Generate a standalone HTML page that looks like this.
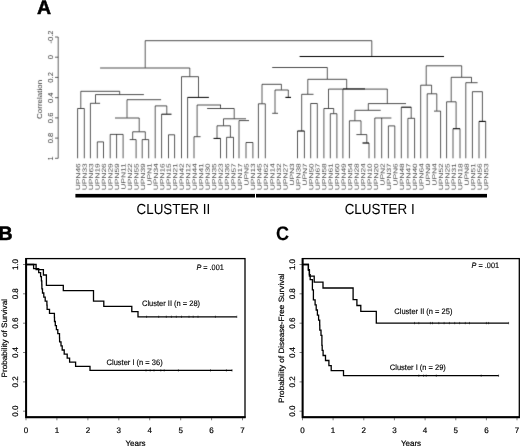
<!DOCTYPE html>
<html lang="en"><head><meta charset="utf-8"><title>Figure</title>
<style>
html,body{margin:0;padding:0;background:#fff;}
body{width:520px;height:446px;overflow:hidden;}
svg{display:block;}
text{font-family:"Liberation Sans",Arial,Helvetica,sans-serif;text-rendering:geometricPrecision;}
.pl{font-weight:bold;font-size:19.5px;fill:#000;stroke:#000;stroke-width:0.5px;}
.dl{font-size:6.1px;fill:#4c4c4c;}
.ax{font-size:7.2px;fill:#333;}
.tk{font-size:8px;fill:#000;stroke:#000;stroke-width:0.2px;}
.cl{font-size:14.6px;fill:#000;stroke:#000;stroke-width:0.06px;}
.an{font-size:7.9px;fill:#000;stroke:#000;stroke-width:0.15px;}
</style></head><body>
<svg width="520" height="446" viewBox="0 0 520 446">
<defs><filter id="soft" x="0" y="20" width="520" height="172" filterUnits="userSpaceOnUse" color-interpolation-filters="sRGB"><feConvolveMatrix order="3" kernelMatrix="0.0081 0.0738 0.0081 0.0738 0.6724 0.0738 0.0081 0.0738 0.0081" divisor="1" edgeMode="duplicate" preserveAlpha="true"/></filter></defs>
<rect width="520" height="446" fill="#fff"/>
<text class="pl" x="36.9" y="13.9">A</text>
<text class="pl" x="-1.4" y="239.6">B</text>
<text class="pl" style="stroke-width:0.15px" transform="translate(276 239.5) scale(0.92 1)">C</text>
<g filter="url(#soft)"><rect x="0" y="20" width="520" height="172" fill="#fff"/>
<g stroke="#000" stroke-width="0.62" fill="none" stroke-linecap="butt">
<path stroke-width="0.7" d="M77.6 108.5H84.3M80.8 91.3H119.7M95.5 94.6H143.9M90.4 103.3H100.1M97.3 141.9H103.5M127.0 99.7H161.1M115.0 118.0H139.2M132.7 131.8H145.3M129.7 139.6H136.1M142.2 139.6H148.7M110.2 134.4H123.1M155.2 105.9H166.8M168.5 134.8H174.6M145.2 40.7H371.8M100.1 68.0H189.8M181.5 76.7H198.5M197.1 105.0H221.0M194.0 136.7H200.6M207.1 108.5H234.2M223.5 118.8H246.0M217.0 125.8H230.4M226.6 137.3H233.5M239.0 120.6H249.0M246.0 142.5H252.9M272.2 67.5H327.3M307.8 79.3H346.7M262.0 84.3H281.4M258.4 103.8H265.3M275.0 90.0H288.3M272.2 113.3H278.0M301.7 94.3H313.5M310.7 103.5H317.3M328.5 89.1H387.4M323.9 108.5H333.7M330.3 113.7H336.9M368.3 103.6H406.0M354.9 110.3H380.7M349.4 120.8H361.0M356.4 134.6H366.8M374.8 118.0H391.4M388.4 125.9H394.8M407.9 118.3H414.6M426.2 65.8H461.7M420.7 85.2H431.6M427.2 93.8H436.8M434.0 111.1H440.6M451.2 77.3H471.5M446.6 101.8H456.1M465.8 82.7H477.6M472.4 91.7H482.4"/>
<path stroke-width="1.0" d="M161.6 114.2H171.5"/>
<path stroke-width="1.0" d="M187.6 97.4H208.9"/>
<path stroke-width="1.0" d="M213.5 138.4H220.5"/>
<path stroke-width="1.0" d="M299.6 56.5H444.0"/>
<path stroke-width="1.1" d="M285.4 97.4H291.0"/>
<path stroke-width="1.1" d="M297.5 131.0H304.4"/>
<path stroke-width="0.9" d="M343.0 88.9H365.0"/>
<path stroke-width="1.2" d="M362.5 143.0H369.0"/>
<path stroke-width="1.1" d="M401.3 107.2H411.2"/>
<path stroke-width="1.1" d="M453.0 128.7H460.0"/>
<path stroke-width="1.1" d="M479.0 121.4H485.7"/>
<path stroke-width="0.65" d="M77.6 108.5V158.3M84.3 108.5V158.3M80.8 91.3V108.2M119.7 91.3V94.3M95.5 94.6V103.0M90.4 103.3V158.3M97.3 141.9V158.3M103.5 141.9V158.3M127.0 99.7V117.7M139.2 118.0V131.5M132.7 131.8V139.3M136.1 139.6V158.3M145.3 131.8V139.3M142.2 139.6V158.3M148.7 139.6V158.3M110.2 134.4V158.3M116.6 134.4V158.3M123.1 134.4V158.3M155.2 105.9V158.3M166.8 105.9V113.9M161.6 114.2V158.3M168.5 134.8V158.3M174.6 134.8V158.3M145.2 40.7V67.7M189.8 68.0V76.4M181.5 76.7V158.3M198.5 76.7V97.1M187.6 97.4V158.3M197.1 105.0V136.4M194.0 136.7V158.3M220.5 105.0V108.2M234.2 108.5V118.5M223.5 118.8V125.5M217.0 125.8V138.1M220.5 138.4V158.3M230.4 125.8V137.0M226.6 137.3V158.3M233.5 137.3V158.3M239.0 120.6V158.3M246.0 142.5V158.3M252.9 142.5V158.3M371.8 40.7V56.2M327.3 67.5V79.0M262.0 84.3V103.5M258.4 103.8V158.3M265.3 103.8V158.3M281.4 84.3V89.7M275.0 90.0V113.0M288.3 90.0V97.1M307.8 79.3V94.0M301.7 94.3V130.7M297.5 131.0V158.3M304.4 131.0V158.3M310.7 103.5V158.3M317.3 103.5V158.3M346.7 79.3V88.8M328.5 89.1V108.2M323.9 108.5V158.3M333.7 108.5V113.4M330.3 113.7V158.3M336.9 113.7V158.3M342.9 89.1V158.3M387.3 89.1V103.3M368.3 103.6V110.0M354.9 110.3V120.5M349.4 120.8V158.3M361.0 120.8V134.3M366.8 134.6V142.7M369.0 143.0V158.3M374.8 118.0V158.3M381.7 118.0V158.3M388.4 125.9V158.3M394.8 125.9V158.3M401.3 107.2V158.3M411.2 107.2V118.0M407.9 118.3V158.3M414.6 118.3V158.3M426.2 65.8V84.9M420.7 85.2V158.3M431.6 85.2V93.5M427.2 93.8V158.3M436.8 93.8V110.8M440.6 111.1V158.3M461.7 65.8V77.0M451.2 77.3V101.5M446.6 101.8V158.3M456.1 101.8V128.4M453.0 128.7V158.3M460.0 128.7V158.3M471.5 77.3V82.4M465.8 82.7V158.3M472.4 91.7V158.3M482.4 91.7V121.1M479.0 121.4V158.3M485.7 121.4V158.3"/>
<path d="M58.2 37.0V158.3M58.2 37.0H55.0M58.2 57.2H55.0M58.2 77.4H55.0M58.2 97.7H55.0M58.2 117.9H55.0M58.2 138.1H55.0M58.2 158.3H55.0"/>
</g>
<text class="ax" text-anchor="middle" transform="translate(52.9 37.0) rotate(-90) scale(1.05 1)">-0.2</text>
<text class="ax" text-anchor="middle" transform="translate(52.9 57.2) rotate(-90) scale(1.05 1)">0</text>
<text class="ax" text-anchor="middle" transform="translate(52.9 77.4) rotate(-90) scale(1.05 1)">0.2</text>
<text class="ax" text-anchor="middle" transform="translate(52.9 97.7) rotate(-90) scale(1.05 1)">0.4</text>
<text class="ax" text-anchor="middle" transform="translate(52.9 117.9) rotate(-90) scale(1.05 1)">0.6</text>
<text class="ax" text-anchor="middle" transform="translate(52.9 138.1) rotate(-90) scale(1.05 1)">0.8</text>
<text class="ax" text-anchor="middle" transform="translate(52.9 158.3) rotate(-90) scale(1.05 1)">1</text>
<text class="ax" style="font-size:7px" text-anchor="middle" transform="translate(41.6 99.4) rotate(-90) scale(1.14 1)">Correlation</text>
<text class="dl" text-anchor="end" transform="translate(80.20 163.2) rotate(-89.8) scale(1.38 1)">UPN46</text>
<text class="dl" text-anchor="end" transform="translate(86.68 163.2) rotate(-89.8) scale(1.38 1)">UPN33</text>
<text class="dl" text-anchor="end" transform="translate(93.16 163.2) rotate(-89.8) scale(1.38 1)">UPN63</text>
<text class="dl" text-anchor="end" transform="translate(99.63 163.2) rotate(-89.8) scale(1.38 1)">UPN19</text>
<text class="dl" text-anchor="end" transform="translate(106.11 163.2) rotate(-89.8) scale(1.38 1)">UPN26</text>
<text class="dl" text-anchor="end" transform="translate(112.59 163.2) rotate(-89.8) scale(1.38 1)">UPN29</text>
<text class="dl" text-anchor="end" transform="translate(119.07 163.2) rotate(-89.8) scale(1.38 1)">UPN59</text>
<text class="dl" text-anchor="end" transform="translate(125.55 163.2) rotate(-89.8) scale(1.38 1)">UPN11</text>
<text class="dl" text-anchor="end" transform="translate(132.02 163.2) rotate(-89.8) scale(1.38 1)">UPN22</text>
<text class="dl" text-anchor="end" transform="translate(138.50 163.2) rotate(-89.8) scale(1.38 1)">UPN55</text>
<text class="dl" text-anchor="end" transform="translate(144.98 163.2) rotate(-89.8) scale(1.38 1)">UPN39</text>
<text class="dl" text-anchor="end" transform="translate(151.46 163.2) rotate(-89.8) scale(1.38 1)">UPN1</text>
<text class="dl" text-anchor="end" transform="translate(157.94 163.2) rotate(-89.8) scale(1.38 1)">UPN34</text>
<text class="dl" text-anchor="end" transform="translate(164.41 163.2) rotate(-89.8) scale(1.38 1)">UPN16</text>
<text class="dl" text-anchor="end" transform="translate(170.89 163.2) rotate(-89.8) scale(1.38 1)">UPN15</text>
<text class="dl" text-anchor="end" transform="translate(177.37 163.2) rotate(-89.8) scale(1.38 1)">UPN21</text>
<text class="dl" text-anchor="end" transform="translate(183.85 163.2) rotate(-89.8) scale(1.38 1)">UPN42</text>
<text class="dl" text-anchor="end" transform="translate(190.33 163.2) rotate(-89.8) scale(1.38 1)">UPN12</text>
<text class="dl" text-anchor="end" transform="translate(196.80 163.2) rotate(-89.8) scale(1.38 1)">UPN44</text>
<text class="dl" text-anchor="end" transform="translate(203.28 163.2) rotate(-89.8) scale(1.38 1)">UPN41</text>
<text class="dl" text-anchor="end" transform="translate(209.76 163.2) rotate(-89.8) scale(1.38 1)">UPN30</text>
<text class="dl" text-anchor="end" transform="translate(216.24 163.2) rotate(-89.8) scale(1.38 1)">UPN35</text>
<text class="dl" text-anchor="end" transform="translate(222.72 163.2) rotate(-89.8) scale(1.38 1)">UPN23</text>
<text class="dl" text-anchor="end" transform="translate(229.19 163.2) rotate(-89.8) scale(1.38 1)">UPN36</text>
<text class="dl" text-anchor="end" transform="translate(235.67 163.2) rotate(-89.8) scale(1.38 1)">UPN57</text>
<text class="dl" text-anchor="end" transform="translate(242.15 163.2) rotate(-89.8) scale(1.38 1)">UPN17</text>
<text class="dl" text-anchor="end" transform="translate(248.63 163.2) rotate(-89.8) scale(1.38 1)">UPN5</text>
<text class="dl" text-anchor="end" transform="translate(255.11 163.2) rotate(-89.8) scale(1.38 1)">UPN13</text>
<text class="dl" text-anchor="end" transform="translate(261.58 163.2) rotate(-89.8) scale(1.38 1)">UPN45</text>
<text class="dl" text-anchor="end" transform="translate(268.06 163.2) rotate(-89.8) scale(1.38 1)">UPN62</text>
<text class="dl" text-anchor="end" transform="translate(274.54 163.2) rotate(-89.8) scale(1.38 1)">UPN14</text>
<text class="dl" text-anchor="end" transform="translate(281.02 163.2) rotate(-89.8) scale(1.38 1)">UPN32</text>
<text class="dl" text-anchor="end" transform="translate(287.50 163.2) rotate(-89.8) scale(1.38 1)">UPN27</text>
<text class="dl" text-anchor="end" transform="translate(293.97 163.2) rotate(-89.8) scale(1.38 1)">UPN3</text>
<text class="dl" text-anchor="end" transform="translate(300.45 163.2) rotate(-89.8) scale(1.38 1)">UPN38</text>
<text class="dl" text-anchor="end" transform="translate(306.93 163.2) rotate(-89.8) scale(1.38 1)">UPN7</text>
<text class="dl" text-anchor="end" transform="translate(313.41 163.2) rotate(-89.8) scale(1.38 1)">UPN50</text>
<text class="dl" text-anchor="end" transform="translate(319.89 163.2) rotate(-89.8) scale(1.38 1)">UPN67</text>
<text class="dl" text-anchor="end" transform="translate(326.36 163.2) rotate(-89.8) scale(1.38 1)">UPN58</text>
<text class="dl" text-anchor="end" transform="translate(332.84 163.2) rotate(-89.8) scale(1.38 1)">UPN61</text>
<text class="dl" text-anchor="end" transform="translate(339.32 163.2) rotate(-89.8) scale(1.38 1)">UPN60</text>
<text class="dl" text-anchor="end" transform="translate(345.80 163.2) rotate(-89.8) scale(1.38 1)">UPN49</text>
<text class="dl" text-anchor="end" transform="translate(352.28 163.2) rotate(-89.8) scale(1.38 1)">UPN54</text>
<text class="dl" text-anchor="end" transform="translate(358.75 163.2) rotate(-89.8) scale(1.38 1)">UPN28</text>
<text class="dl" text-anchor="end" transform="translate(365.23 163.2) rotate(-89.8) scale(1.38 1)">UPN24</text>
<text class="dl" text-anchor="end" transform="translate(371.71 163.2) rotate(-89.8) scale(1.38 1)">UPN10</text>
<text class="dl" text-anchor="end" transform="translate(378.19 163.2) rotate(-89.8) scale(1.38 1)">UPN20</text>
<text class="dl" text-anchor="end" transform="translate(384.67 163.2) rotate(-89.8) scale(1.38 1)">UPN2</text>
<text class="dl" text-anchor="end" transform="translate(391.14 163.2) rotate(-89.8) scale(1.38 1)">UPN37</text>
<text class="dl" text-anchor="end" transform="translate(397.62 163.2) rotate(-89.8) scale(1.38 1)">UPN6</text>
<text class="dl" text-anchor="end" transform="translate(404.10 163.2) rotate(-89.8) scale(1.38 1)">UPN48</text>
<text class="dl" text-anchor="end" transform="translate(410.58 163.2) rotate(-89.8) scale(1.38 1)">UPN47</text>
<text class="dl" text-anchor="end" transform="translate(417.06 163.2) rotate(-89.8) scale(1.38 1)">UPN40</text>
<text class="dl" text-anchor="end" transform="translate(423.53 163.2) rotate(-89.8) scale(1.38 1)">UPN64</text>
<text class="dl" text-anchor="end" transform="translate(430.01 163.2) rotate(-89.8) scale(1.38 1)">UPN9</text>
<text class="dl" text-anchor="end" transform="translate(436.49 163.2) rotate(-89.8) scale(1.38 1)">UPN4</text>
<text class="dl" text-anchor="end" transform="translate(442.97 163.2) rotate(-89.8) scale(1.38 1)">UPN52</text>
<text class="dl" text-anchor="end" transform="translate(449.45 163.2) rotate(-89.8) scale(1.38 1)">UPN25</text>
<text class="dl" text-anchor="end" transform="translate(455.92 163.2) rotate(-89.8) scale(1.38 1)">UPN31</text>
<text class="dl" text-anchor="end" transform="translate(462.40 163.2) rotate(-89.8) scale(1.38 1)">UPN18</text>
<text class="dl" text-anchor="end" transform="translate(468.88 163.2) rotate(-89.8) scale(1.38 1)">UPN8</text>
<text class="dl" text-anchor="end" transform="translate(475.36 163.2) rotate(-89.8) scale(1.38 1)">UPN51</text>
<text class="dl" text-anchor="end" transform="translate(481.84 163.2) rotate(-89.8) scale(1.38 1)">UPN56</text>
<text class="dl" text-anchor="end" transform="translate(488.31 163.2) rotate(-89.8) scale(1.38 1)">UPN53</text>
</g>
<rect x="75.4" y="193.9" width="179.6" height="3.6" fill="#000"/>
<rect x="256" y="193.9" width="231" height="3.6" fill="#000"/>
<text class="cl" transform="translate(136.5 213.5) scale(0.918 1)">CLUSTER II</text>
<text class="cl" transform="translate(344.7 213.5) scale(0.918 1)">CLUSTER I</text>
<g fill="none" stroke="#000">
<rect x="26.0" y="258.6" width="219.0" height="158.5" stroke-width="1.3"/>
<path stroke-width="1.9" d="M26.15 257.95000000000005V417.20000000000005H245.65"/>
<path stroke-width="0.5" d="M26.0 417.1v3.2M56.9 417.1v3.2M87.9 417.1v3.2M118.8 417.1v3.2M149.7 417.1v3.2M180.7 417.1v3.2M211.6 417.1v3.2M242.5 417.1v3.2M26.0 411.2h-3M26.0 381.9h-3M26.0 352.5h-3M26.0 323.2h-3M26.0 293.8h-3M26.0 264.5h-3"/>
<path stroke-width="1.3" stroke-linejoin="miter" d="M26.0 264.5L36.1 264.5L36.1 269.7L43.4 269.7L43.4 275.0L46.4 275.0L46.4 280.2L46.4 285.4L63.3 285.4L63.3 290.7L93.5 290.7L93.5 295.9L93.5 301.2L103.8 301.2L103.8 306.4L131.8 306.4L131.8 311.6L138.0 311.6L138.0 316.9L236.8 316.9"/>
<path stroke-width="0.5" d="M236.8 315.6v2.4M146.6 315.6v2.4M158.7 315.6v2.4M166.3 315.6v2.4M171.4 315.6v2.4M176.3 315.6v2.4M181.5 315.6v2.4M189.0 315.6v2.4M193.2 315.6v2.4M198.0 315.6v2.4M215.4 315.6v2.4"/>
<path stroke-width="1.3" stroke-linejoin="miter" d="M26.0 264.5L33.6 264.5L33.6 268.6L38.7 268.6L38.7 272.6L40.6 272.6L40.6 276.7L41.4 276.7L41.4 280.8L41.8 280.8L41.8 284.9L41.9 284.9L41.9 288.9L42.5 288.9L42.5 293.0L43.8 293.0L43.8 297.1L45.2 297.1L45.2 301.2L46.9 301.2L46.9 305.2L47.1 305.2L47.1 309.3L49.5 309.3L49.5 313.4L54.4 313.4L54.4 317.4L54.5 317.4L54.5 321.5L55.3 321.5L55.3 325.6L56.4 325.6L56.4 329.7L57.8 329.7L57.8 333.7L59.5 333.7L59.5 337.8L59.6 337.8L59.6 341.9L61.0 341.9L61.0 345.9L62.2 345.9L62.2 350.0L64.2 350.0L64.2 354.1L67.2 354.1L67.2 358.2L69.6 358.2L69.6 362.2L75.6 362.2L75.6 366.3L90.0 366.3L90.0 370.4L232.2 370.4"/>
<path stroke-width="0.5" d="M232.0 369.2v2.4M146.0 369.2v2.4M150.2 369.2v2.4M154.0 369.2v2.4M160.8 369.2v2.4M164.2 369.2v2.4M178.4 369.2v2.4M210.5 369.2v2.4M226.4 369.2v2.4"/>
</g>
<text class="tk" text-anchor="middle" x="26.0" y="433.2">0</text>
<text class="tk" text-anchor="middle" x="56.9" y="433.2">1</text>
<text class="tk" text-anchor="middle" x="87.9" y="433.2">2</text>
<text class="tk" text-anchor="middle" x="118.8" y="433.2">3</text>
<text class="tk" text-anchor="middle" x="149.7" y="433.2">4</text>
<text class="tk" text-anchor="middle" x="180.7" y="433.2">5</text>
<text class="tk" text-anchor="middle" x="211.6" y="433.2">6</text>
<text class="tk" text-anchor="middle" x="242.5" y="433.2">7</text>
<text class="tk" text-anchor="middle" transform="translate(18.1 411.2) rotate(-90)">0.0</text>
<text class="tk" text-anchor="middle" transform="translate(18.1 381.9) rotate(-90)">0.2</text>
<text class="tk" text-anchor="middle" transform="translate(18.1 352.5) rotate(-90)">0.4</text>
<text class="tk" text-anchor="middle" transform="translate(18.1 323.2) rotate(-90)">0.6</text>
<text class="tk" text-anchor="middle" transform="translate(18.1 293.8) rotate(-90)">0.8</text>
<text class="tk" text-anchor="middle" transform="translate(18.1 264.5) rotate(-90)">1.0</text>
<text class="tk" text-anchor="middle" transform="translate(7.4 338.2) rotate(-90) scale(1.02 0.97)">Probability of Survival</text>
<text class="tk" text-anchor="middle" x="135.5" y="445.6">Years</text>
<text class="an" transform="translate(142 305.5) scale(0.95 1)">Cluster II (n = 28)</text>
<text class="an" transform="translate(106.6 364.8) scale(0.95 1)">Cluster I (n = 36)</text>
<text class="an" transform="translate(196.4 269.8) scale(0.925 1)"><tspan font-style="italic">P</tspan> = .001</text>
<g fill="none" stroke="#000">
<rect x="302.5" y="258.6" width="216.8" height="158.5" stroke-width="1.3"/>
<path stroke-width="1.9" d="M302.65 257.95000000000005V417.20000000000005H519.9499999999999"/>
<path stroke-width="0.5" d="M302.5 417.1v3.2M333.1 417.1v3.2M363.8 417.1v3.2M394.4 417.1v3.2M425.1 417.1v3.2M455.8 417.1v3.2M486.4 417.1v3.2M517.0 417.1v3.2M302.5 411.2h-3M302.5 381.9h-3M302.5 352.5h-3M302.5 323.2h-3M302.5 293.8h-3M302.5 264.5h-3"/>
<path stroke-width="1.3" stroke-linejoin="miter" d="M302.5 264.5L308.4 264.5L308.4 270.4L309.4 270.4L309.4 276.2L314.2 276.2L314.2 282.1L323.0 282.1L323.0 288.0L353.1 288.0L353.1 293.8L353.1 299.7L356.9 299.7L356.9 305.5L360.8 305.5L360.8 311.4L376.3 311.4L376.3 317.3L376.3 323.1L508.7 323.1"/>
<path stroke-width="0.5" d="M508.6 321.9v2.4M414.5 321.9v2.4M418.8 321.9v2.4M430.4 321.9v2.4M432.5 321.9v2.4M438.8 321.9v2.4M444.1 321.9v2.4M449.4 321.9v2.4M454.7 321.9v2.4M459.6 321.9v2.4M465.3 321.9v2.4M469.5 321.9v2.4M486.4 321.9v2.4M488.6 321.9v2.4"/>
<path stroke-width="1.3" stroke-linejoin="miter" d="M302.5 264.5L308.4 264.5L308.4 269.6L309.4 269.6L309.4 274.6L310.2 274.6L310.2 279.7L312.4 279.7L312.4 284.7L312.4 284.7L312.4 289.8L313.4 289.8L313.4 294.8L313.4 294.8L313.4 299.9L315.1 299.9L315.1 304.9L316.2 304.9L316.2 310.0L317.4 310.0L317.4 315.1L318.6 315.1L318.6 320.1L319.7 320.1L319.7 325.2L319.8 325.2L319.8 330.2L321.0 330.2L321.0 335.3L321.9 335.3L321.9 340.3L321.9 340.3L321.9 345.4L322.2 345.4L322.2 350.4L323.1 350.4L323.1 355.5L325.5 355.5L325.5 360.5L328.9 360.5L328.9 365.6L331.2 365.6L331.2 370.7L343.5 370.7L343.5 375.7L498.7 375.7"/>
<path stroke-width="0.5" d="M498.6 374.5v2.4M418.8 374.5v2.4M423.6 374.5v2.4M426.2 374.5v2.4M436.3 374.5v2.4M481.2 374.5v2.4"/>
</g>
<text class="tk" text-anchor="middle" x="302.5" y="433.2">0</text>
<text class="tk" text-anchor="middle" x="333.1" y="433.2">1</text>
<text class="tk" text-anchor="middle" x="363.8" y="433.2">2</text>
<text class="tk" text-anchor="middle" x="394.4" y="433.2">3</text>
<text class="tk" text-anchor="middle" x="425.1" y="433.2">4</text>
<text class="tk" text-anchor="middle" x="455.8" y="433.2">5</text>
<text class="tk" text-anchor="middle" x="486.4" y="433.2">6</text>
<text class="tk" text-anchor="middle" x="517.0" y="433.2">7</text>
<text class="tk" text-anchor="middle" transform="translate(294.8 411.2) rotate(-90)">0.0</text>
<text class="tk" text-anchor="middle" transform="translate(294.8 381.9) rotate(-90)">0.2</text>
<text class="tk" text-anchor="middle" transform="translate(294.8 352.5) rotate(-90)">0.4</text>
<text class="tk" text-anchor="middle" transform="translate(294.8 323.2) rotate(-90)">0.6</text>
<text class="tk" text-anchor="middle" transform="translate(294.8 293.8) rotate(-90)">0.8</text>
<text class="tk" text-anchor="middle" transform="translate(294.8 264.5) rotate(-90)">1.0</text>
<text class="tk" text-anchor="middle" transform="translate(284.2 338.2) rotate(-90) scale(1.02 0.97)">Probability of Disease-Free Survival</text>
<text class="tk" text-anchor="middle" x="411" y="445.6">Years</text>
<text class="an" transform="translate(394.3 314.2) scale(0.95 1)">Cluster II (n = 25)</text>
<text class="an" transform="translate(389.8 369.6) scale(0.95 1)">Cluster I (n = 29)</text>
<text class="an" transform="translate(471.6 268.4) scale(0.925 1)"><tspan font-style="italic">P</tspan> = .001</text>
</svg>
</body></html>
